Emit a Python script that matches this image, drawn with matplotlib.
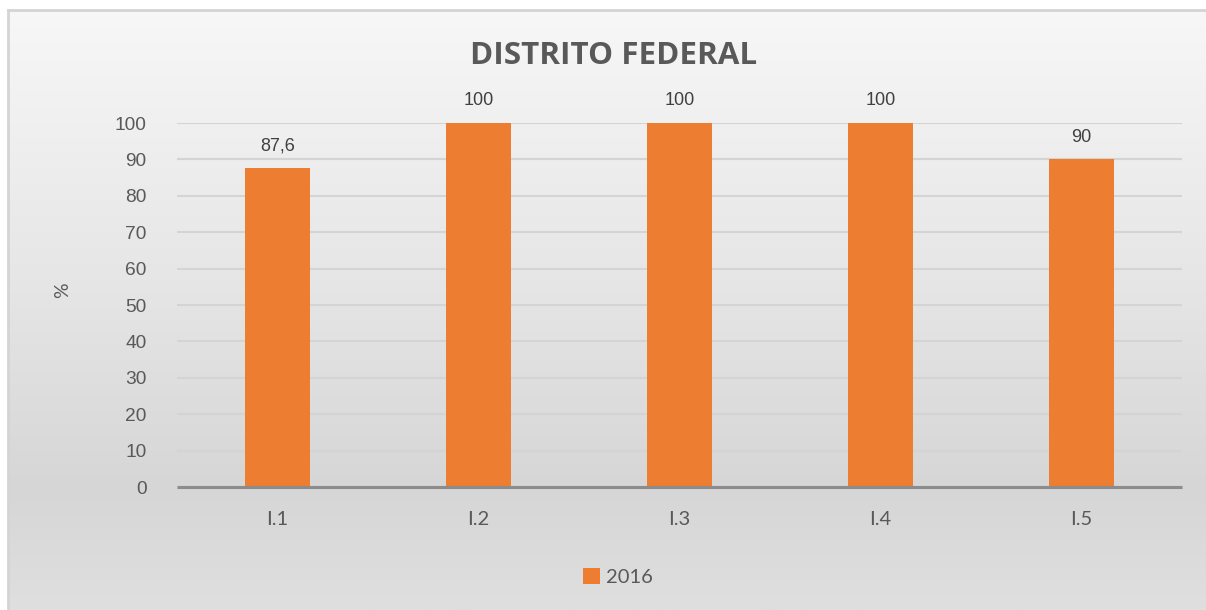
import numpy as np
import matplotlib
matplotlib.use('Agg')
from matplotlib import pyplot as plt
from matplotlib.colors import LinearSegmentedColormap

categories = ['I.1', 'I.2', 'I.3', 'I.4', 'I.5']
values_2016 = [87.6, 100, 100, 100, 90]
value_labels = ['87,6', '100', '100', '100', '90']
series_name = '2016'
title = 'DISTRITO FEDERAL'

W, H = 1206, 610
fig = plt.figure(figsize=(W / 100, H / 100), dpi=100)
fig.patch.set_facecolor('white')

# chart area background: soft vertical gradient with a thin border
bg = fig.add_axes([8 / W, 0, 1.02 - 8 / W, (H - 10) / H])
cmap = LinearSegmentedColormap.from_list(
    'bg', [(0.0, '#f7f7f7'), (0.45, '#e6e6e6'), (0.8, '#d6d6d6'), (1.0, '#dfdfdf')])
bg.imshow(np.linspace(0, 1, 256).reshape(-1, 1), aspect='auto', cmap=cmap,
          extent=[0, 1, 0, 1], origin='upper')
bg.set_xlim(0, 1)
bg.set_ylim(0, 1)
bg.set_xticks([])
bg.set_yticks([])
for side in ['top', 'left']:
    bg.spines[side].set_color('#d4d4d4')
    bg.spines[side].set_linewidth(2)
for side in ['bottom', 'right']:
    bg.spines[side].set_visible(False)

# plot area
left, right = 177, 1182
top, bottom = 123, 487
ax = fig.add_axes([left / W, 1 - bottom / H, (right - left) / W, (bottom - top) / H])
ax.patch.set_alpha(0)

x = np.arange(len(categories))
bars = ax.bar(x, values_2016, width=0.32, color='#ED7D31', label=series_name, zorder=3)

ax.set_xlim(-0.5, len(categories) - 0.5)
ax.set_ylim(0, 100)
ax.set_yticks(range(0, 101, 10))
ax.yaxis.grid(True, color='#d4d4d4', linewidth=1.5, zorder=0)
ax.set_axisbelow(True)
for side in ['top', 'left', 'right']:
    ax.spines[side].set_visible(False)
ax.spines['bottom'].set_color('#8c8c8c')
ax.spines['bottom'].set_linewidth(2.2)
ax.spines['bottom'].set_capstyle('butt')
ax.spines['bottom'].set_zorder(4)
ax.tick_params(axis='both', length=0)
ax.tick_params(axis='y', pad=22, labelsize=13.8, labelcolor='#595959')
ax.tick_params(axis='x', pad=17, labelsize=14.5, labelcolor='#595959')
for lbl in ax.get_yticklabels():
    lbl.set_fontfamily('Liberation Sans')
ax.set_xticks(x)
ax.set_xticklabels(categories, fontfamily='Lato')

for b, txt in zip(bars, value_labels):
    ax.annotate(txt, (b.get_x() + b.get_width() / 2, b.get_height()),
                xytext=(0, 10), textcoords='offset points', ha='center', va='bottom',
                fontsize=13, color='#404040', fontfamily='Liberation Sans',
                clip_on=False)

fig.text(63 / W, 1 - 290 / H, '%', rotation=90, ha='center', va='center',
         fontsize=14, color='#595959', fontfamily='Lato')
fig.text(614 / W, 1 - 56 / H, title, ha='center', va='center',
         fontsize=22.6, fontweight='bold', color='#595959', fontfamily='Open Sans')

leg = fig.legend(handles=[bars], labels=[series_name], loc='center',
                 bbox_to_anchor=(618 / W, 1 - 577 / H), frameon=False,
                 handlelength=0.8, handleheight=0.8, handletextpad=0.3,
                 prop={'family': 'Lato', 'size': 14.5})
for t in leg.get_texts():
    t.set_color('#595959')

fig.savefig('out.png', dpi=100)
